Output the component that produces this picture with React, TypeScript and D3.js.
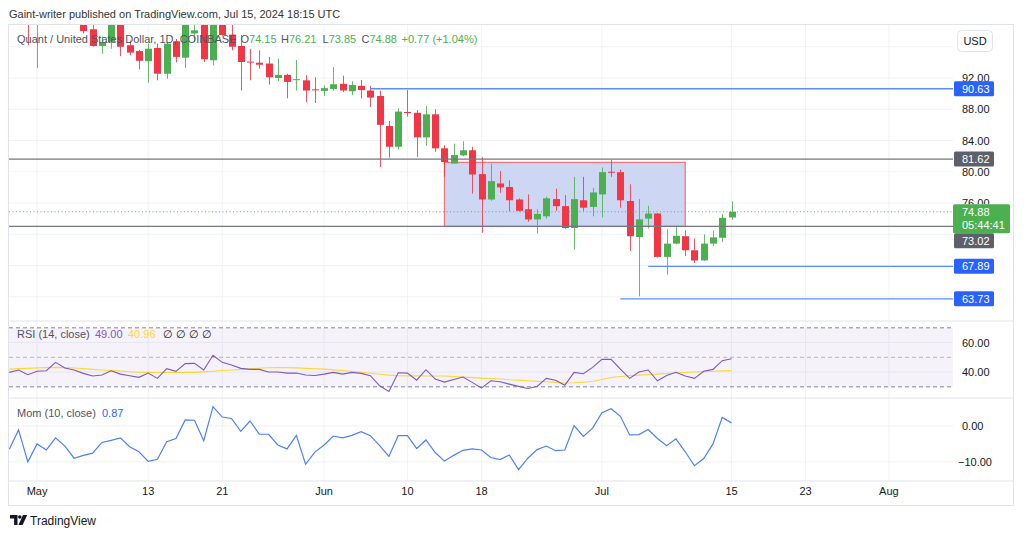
import React from "react";
import * as d3 from "d3";

// daily candles, Apr 28 .. Jul 15 2024 (QNT/USD, Coinbase)
const firstDay = new Date(Date.UTC(2024, 3, 28));
const lastDay = new Date(Date.UTC(2024, 6, 15));

const opens = [
  103.5, 102.5, 101.2, 99.3, 100.8, 101.3, 104.5, 103.0, 101.5, 98.24,
  96.1, 96.6, 99.3, 96.2, 95.45, 94.15, 95.85, 92.55, 96.7, 94.6,
  97.7, 99.5, 94.27, 99.8, 97.55, 96.1, 94.1, 93.96, 93.85, 92.0,
  92.4, 91.8, 91.7, 90.55, 90.35, 90.6, 91.25, 90.3, 91.0, 90.4,
  89.7, 85.85, 83.2, 87.65, 87.55, 84.4, 87.35, 83.0, 81.05, 82.1,
  82.75, 79.7, 76.45, 78.5, 78.05, 76.45, 75.2, 73.9, 74.3, 76.5,
  75.6, 72.8, 76.35, 75.5, 77.1, 80.0, 79.95, 76.25, 71.65, 74.0,
  74.65, 69.1, 70.8, 71.75, 69.95, 68.65, 70.8, 71.55, 74.15,
];
const highs = [
  105.0, 104.0, 102.0, 101.5, 102.0, 105.0, 105.0, 103.5, 102.0, 98.8,
  97.3, 99.8, 99.8, 96.8, 95.6, 96.4, 96.4, 96.6, 97.0, 99.6,
  99.3, 100.0, 100.5, 100.5, 98.8, 97.5, 95.75, 95.55, 94.7, 94.5,
  92.55, 94.3, 92.35, 92.1, 91.05, 93.4, 92.3, 91.6, 91.75, 91.0,
  90.4, 86.5, 88.1, 90.45, 87.9, 88.4, 88.0, 83.4, 83.6, 83.9,
  83.2, 81.85, 81.05, 80.1, 78.9, 76.6, 77.1, 75.2, 76.8, 77.85,
  77.0, 79.35, 79.35, 77.95, 80.55, 81.5, 80.3, 78.4, 76.5, 75.65,
  74.7, 72.65, 73.1, 72.5, 71.45, 72.0, 72.5, 74.55, 76.21,
];
const lows = [
  101.5, 100.0, 96.2, 93.3, 99.4, 100.5, 102.5, 101.0, 97.7, 96.0,
  95.1, 95.75, 94.8, 94.9, 93.1, 91.4, 91.7, 91.9, 94.0, 93.3,
  96.6, 94.05, 93.6, 97.4, 95.55, 90.4, 91.7, 93.2, 91.15, 91.6,
  89.4, 90.4, 88.9, 88.8, 89.7, 90.4, 90.2, 89.8, 89.4, 88.3,
  80.6, 81.8, 82.85, 87.05, 81.9, 83.3, 82.55, 79.35, 81.05, 82.0,
  77.2, 72.2, 76.3, 77.3, 74.95, 74.9, 73.6, 72.1, 74.0, 75.0,
  72.7, 70.05, 75.0, 74.3, 74.15, 79.35, 75.4, 69.85, 64.05, 72.75,
  69.05, 66.85, 70.75, 69.2, 68.35, 68.6, 70.5, 71.0, 73.85,
];
const closes = [
  102.5, 101.0, 99.4, 100.8, 101.3, 104.5, 103.0, 101.8, 98.0, 96.1,
  96.6, 99.3, 96.0, 95.25, 94.2, 95.75, 92.55, 96.4, 94.7, 99.3,
  98.1, 94.4, 99.8, 97.5, 96.0, 94.05, 94.0, 93.7, 92.1, 92.4,
  91.5, 91.85, 90.4, 90.45, 90.7, 91.2, 90.4, 91.1, 90.45, 89.5,
  86.0, 83.2, 87.7, 87.55, 84.4, 87.35, 83.0, 81.25, 82.15, 82.75,
  79.65, 76.45, 78.8, 78.0, 76.35, 75.0, 73.9, 74.6, 76.6, 75.6,
  72.8, 76.5, 75.4, 77.35, 79.95, 79.9, 76.35, 71.75, 73.9, 74.65,
  69.1, 70.8, 71.8, 69.95, 68.65, 70.8, 71.6, 74.1, 74.88,
];

const rsi = [
  39.8, 41.4, 38.2, 40.5, 40.9, 46.6, 42.7, 41.4, 39.1, 37.3,
  38.0, 40.9, 38.6, 37.5, 36.4, 39.3, 35.7, 42.3, 40.5, 45.7,
  45.9, 41.4, 51.4, 46.6, 44.8, 42.5, 41.8, 41.8, 40.0, 40.0,
  39.3, 39.3, 38.0, 37.7, 38.6, 39.8, 38.6, 39.8, 39.1, 37.5,
  30.7, 26.8, 39.5, 39.3, 34.5, 41.6, 35.2, 33.2, 35.0, 36.6,
  33.0, 29.1, 34.1, 33.4, 31.8, 30.3, 28.9, 30.2, 35.7, 34.5,
  31.1, 39.8, 38.9, 43.2, 48.6, 48.6, 42.0, 35.7, 40.0, 41.4,
  34.1, 37.7, 39.8, 37.3, 35.7, 40.5, 41.8, 47.7, 49.0,
];
const rsiMa = [
  42.0, 42.3, 42.5, 42.8, 43.0, 43.2, 43.0, 42.7, 42.3, 41.8,
  41.4, 41.0, 40.6, 40.2, 39.9, 39.8, 39.7, 39.7, 39.7, 39.8,
  39.8, 40.1, 40.5, 41.0, 41.4, 41.8, 42.2, 42.6, 42.9, 43.0,
  43.0, 42.8, 42.5, 42.2, 42.0, 41.5, 41.0, 40.4, 39.9, 39.2,
  38.5, 37.9, 37.5, 37.4, 37.4, 37.3, 37.3, 37.3, 37.0, 36.6,
  36.2, 35.9, 35.6, 35.3, 34.8, 34.5, 34.1, 33.7, 33.4, 33.0,
  32.6, 32.7, 33.1, 33.6, 35.0, 36.3, 37.0, 37.5, 37.9, 38.3,
  38.6, 39.0, 39.4, 39.7, 40.0, 40.3, 40.5, 40.8, 40.96,
];
const mom = [
  -6.5, -1.1, -10.0, -5.0, -6.7, -3.3, -5.6, -9.0, -8.2, -7.6,
  -4.6, -4.0, -3.3, -5.8, -7.2, -9.9, -9.3, -4.4, -3.5, 1.7,
  1.6, -4.1, 5.4, 2.5, 2.1, -1.5, 1.4, -2.3, -2.3, -5.3,
  -6.4, -2.6, -10.7, -7.3, -5.3, -2.8, -3.3, -2.6, -1.6, -2.7,
  -5.5, -8.5, -2.7, -2.7, -6.3, -3.9, -7.4, -9.8, -8.2, -6.8,
  -6.4, -6.7, -8.8, -9.4, -8.1, -12.2, -9.0, -6.6, -5.6, -6.9,
  -6.7, 0.1, -2.9, -0.6, 3.7, 4.8, 2.7, -2.5, -2.4, -1.0,
  -3.5, -5.5, -3.6, -7.2, -11.1, -9.1, -5.0, 2.4, 0.87,
];

const timeTicks = ["2024-05-01", "2024-05-13", "2024-05-21", "2024-06-01", "2024-06-10", "2024-06-18", "2024-07-01", "2024-07-15", "2024-07-23", "2024-08-01"];
const timeLabels = ["May", "13", "21", "Jun", "10", "18", "Jul", "15", "23", "Aug"];
const priceGrid = [96, 92, 88, 84, 80, 76, 72, 68, 64];
const priceLabels = [92, 88, 84, 80, 76];
const rsiBands = [70, 50, 30];
const rsiTicks = [60, 40];
const momTicks = [0, -10];

// drawn levels
const levelPrices = [90.63, 81.62, 73.02, 67.89, 63.73];
const levelStarts = ["2024-06-06", null, null, "2024-07-06", "2024-07-03"];
const levelKinds = ["blue", "gray", "gray", "blue", "blue"];
const boxDates = ["2024-06-14", "2024-07-10"];
const boxPrices = [81.2, 73.0];

const GREEN = "#4caf50";
const RED = "#f23645";
const FONT = "'Liberation Sans', Arial, sans-serif";

const W = 1024;
const H = 536;
const plotL = 9;
const plotR = 953;
const mainTop = 24;
const mainBottom = 321;
const rsiBottom = 398;
const momBottom = 481;

const App = () => {
  const days = d3.utcDay.range(firstDay, d3.utcDay.offset(lastDay, 1));
  const x = d3.scaleUtc().domain([firstDay, lastDay]).range([9.3, 731.5]);
  const y = d3.scaleLinear().domain([92, 76]).range([78, 203]);
  const yR = d3.scaleLinear().domain([70, 30]).range([327.8, 386.8]);
  const yM = d3.scaleLinear().domain([0, -10]).range([426, 461.8]);
  const dt = (s: string) => new Date(s + "T00:00:00Z");

  const rsiLine = d3.line<number>().x((_, i) => x(days[i])).y((v) => yR(v));
  const momLine = d3.line<number>().x((_, i) => x(days[i])).y((v) => yM(v));

  const last = closes[closes.length - 1];
  const lastTop = y(last) - 7.5;
  const lastBottom = lastTop + 29;

  const levelLabels = levelPrices.map((p) => {
    let cy = y(p);
    if (cy + 7 > lastTop && cy - 7 < lastBottom) cy = lastBottom + 7.5;
    return cy;
  });

  return (
    <svg width={W} height={H} style={{ position: "absolute", left: 0, top: 0, background: "#fff" }} fontFamily={FONT}>
      <defs>
        <clipPath id="mainClip">
          <rect x={plotL} y={mainTop + 0.5} width={plotR - plotL} height={mainBottom - mainTop - 1} />
        </clipPath>
        <clipPath id="tickClip">
          <rect x={953} y={mainTop} width={60} height={lastTop - mainTop} />
        </clipPath>
      </defs>
      <rect width={W} height={H} fill="#fff" />
      <text x={9} y={18} fontSize={11} fill="#333">Gaint-writer published on TradingView.com, Jul 15, 2024 18:15 UTC</text>

      {/* grid */}
      {timeTicks.map((t) => (
        <line key={t} x1={x(dt(t))} x2={x(dt(t))} y1={mainTop} y2={momBottom} stroke="#f0f2f6" />
      ))}
      {priceGrid.map((p) => (
        <line key={p} x1={plotL} x2={plotR} y1={y(p)} y2={y(p)} stroke="#f0f2f6" />
      ))}
      {rsiTicks.map((v) => (
        <line key={v} x1={plotL} x2={plotR} y1={yR(v)} y2={yR(v)} stroke="#f0f2f6" />
      ))}
      {momTicks.map((v) => (
        <line key={v} x1={plotL} x2={plotR} y1={yM(v)} y2={yM(v)} stroke="#f0f2f6" />
      ))}

      {/* range box */}
      <rect
        x={x(dt(boxDates[0]))}
        y={y(boxPrices[0])}
        width={x(dt(boxDates[1])) - x(dt(boxDates[0]))}
        height={y(boxPrices[1]) - y(boxPrices[0])}
        fill="#cdd6f3"
        stroke="#f3777f"
        strokeWidth={1.3}
      />

      {/* candles */}
      <g clipPath="url(#mainClip)">
        {days.map((d, i) => {
          const up = closes[i] >= opens[i];
          const c = up ? GREEN : RED;
          const cx = Math.round(x(d)) + 0.5;
          const top = y(Math.max(opens[i], closes[i]));
          const bot = y(Math.min(opens[i], closes[i]));
          return (
            <g key={i}>
              <line x1={cx} x2={cx} y1={y(highs[i])} y2={y(lows[i])} stroke={c} strokeOpacity={0.85} />
              <rect x={cx - 3.5} y={top} width={7} height={Math.max(1, bot - top)} fill={c} />
            </g>
          );
        })}
        {levelPrices.map((p, i) => (
          <line
            key={p}
            x1={levelStarts[i] ? x(dt(levelStarts[i] as string)) : plotL}
            x2={plotR}
            y1={y(p)}
            y2={y(p)}
            stroke={levelKinds[i] === "blue" ? "#5b8ff6" : "#74777f"}
            strokeWidth={levelKinds[i] === "blue" ? 1.4 : 1.2}
          />
        ))}
        <line x1={plotL} x2={plotR} y1={y(last)} y2={y(last)} stroke={GREEN} strokeDasharray="1,2.5" strokeOpacity={0.9} />
      </g>

      {/* main legend */}
      <text y={43} fontSize={11} fill="#50535e">
        <tspan x={17}>Quant / United States Dollar, 1D, COINBASE</tspan>
        <tspan x={240.5}>O</tspan><tspan fill={GREEN}>{opens[opens.length - 1].toFixed(2)}</tspan>
        <tspan x={281}>H</tspan><tspan fill={GREEN}>{highs[highs.length - 1].toFixed(2)}</tspan>
        <tspan x={322.5}>L</tspan><tspan fill={GREEN}>{lows[lows.length - 1].toFixed(2)}</tspan>
        <tspan x={361.5}>C</tspan><tspan fill={GREEN}>{last.toFixed(2)}</tspan>
        <tspan x={401.5} fill={GREEN}>+0.77 (+1.04%)</tspan>
      </text>

      {/* price axis */}
      <rect x={957.5} y={30.5} width={35} height={21} rx={4} fill="#fff" stroke="#e0e3eb" />
      <text x={975} y={45} fontSize={11} fill="#131722" textAnchor="middle">USD</text>
      <g clipPath="url(#tickClip)">
        {priceLabels.map((p) => (
          <text key={p} x={962} y={y(p) + 4} fontSize={11} fill="#131722">{p.toFixed(2)}</text>
        ))}
      </g>
      {levelPrices.map((p, i) => (
        <g key={p}>
          <rect x={954} y={levelLabels[i] - 7.5} width={40} height={15} rx={1.5} fill={levelKinds[i] === "blue" ? "#2962ff" : "#5d606b"} />
          <text x={962} y={levelLabels[i] + 4} fontSize={11} fill="#fff">{p.toFixed(2)}</text>
        </g>
      ))}
      <rect x={953} y={lastTop} width={57} height={29} rx={1.5} fill={GREEN} />
      <text x={962} y={lastTop + 11.5} fontSize={11} fill="#fff">{last.toFixed(2)}</text>
      <text x={962} y={lastTop + 25} fontSize={11} fill="#fff">05:44:41</text>

      {/* RSI pane */}
      <line x1={8.5} x2={1013.5} y1={mainBottom} y2={mainBottom} stroke="#e0e3eb" />
      <rect x={plotL} y={yR(70)} width={plotR - plotL} height={yR(30) - yR(70)} fill="rgba(126,87,194,0.08)" />
      {rsiBands.map((v) => (
        <line key={v} x1={plotL} x2={plotR} y1={yR(v)} y2={yR(v)} stroke="#787b86" strokeDasharray="4,3" strokeOpacity={v === 50 ? 0.5 : 0.9} />
      ))}
      <path d={rsiLine(rsiMa) ?? ""} fill="none" stroke="#fdd835" strokeWidth={1.1} />
      <path d={rsiLine(rsi) ?? ""} fill="none" stroke="#7e57c2" strokeWidth={1.1} />
      <text y={338} fontSize={11} fill="#50535e">
        <tspan x={17}>RSI (14, close)</tspan>
        <tspan x={95} fill="#7e57c2">{rsi[rsi.length - 1].toFixed(2)}</tspan>
        <tspan x={128} fill="#fdd835">{rsiMa[rsiMa.length - 1].toFixed(2)}</tspan>
        <tspan x={163} fill="#131722">∅ ∅ ∅ ∅</tspan>
      </text>
      {rsiTicks.map((v) => (
        <text key={v} x={962} y={yR(v) + 4} fontSize={11} fill="#131722">{v.toFixed(2)}</text>
      ))}

      {/* Momentum pane */}
      <line x1={8.5} x2={1013.5} y1={rsiBottom} y2={rsiBottom} stroke="#e0e3eb" />
      <path d={momLine(mom) ?? ""} fill="none" stroke="#4d80f7" strokeWidth={1.2} />
      <text y={417} fontSize={11} fill="#50535e">
        <tspan x={17}>Mom (10, close)</tspan>
        <tspan x={102} fill="#2962ff">{mom[mom.length - 1].toFixed(2)}</tspan>
      </text>
      {momTicks.map((v) => (
        <text key={v} x={v < 0 ? 958 : 962} y={yM(v) + 4} fontSize={11} fill="#131722">{v === 0 ? "0.00" : "\u2212" + Math.abs(v).toFixed(2)}</text>
      ))}

      {/* time axis */}
      <line x1={8.5} x2={1013.5} y1={momBottom} y2={momBottom} stroke="#e0e3eb" />
      {timeTicks.map((t, i) => (
        <text key={t} x={x(dt(t))} y={495} fontSize={11} fill="#131722" textAnchor="middle">{timeLabels[i]}</text>
      ))}

      {/* frame */}
      <rect x={8.5} y={24.5} width={1005} height={481} fill="none" stroke="#e0e3eb" />

      {/* footer logo */}
      <g fill="#131722">
        <path d="M10 515 h7.5 v10 h-3.4 v-6.6 h-4.1 z" />
        <circle cx={19.8} cy={517} r={1.8} />
        <path d="M23 515 h4.2 l-4.6 10 h-4.2 z" />
      </g>
      <text x={30} y={524.5} fontSize={12} fill="#131722">TradingView</text>
    </svg>
  );
};

export default App;
